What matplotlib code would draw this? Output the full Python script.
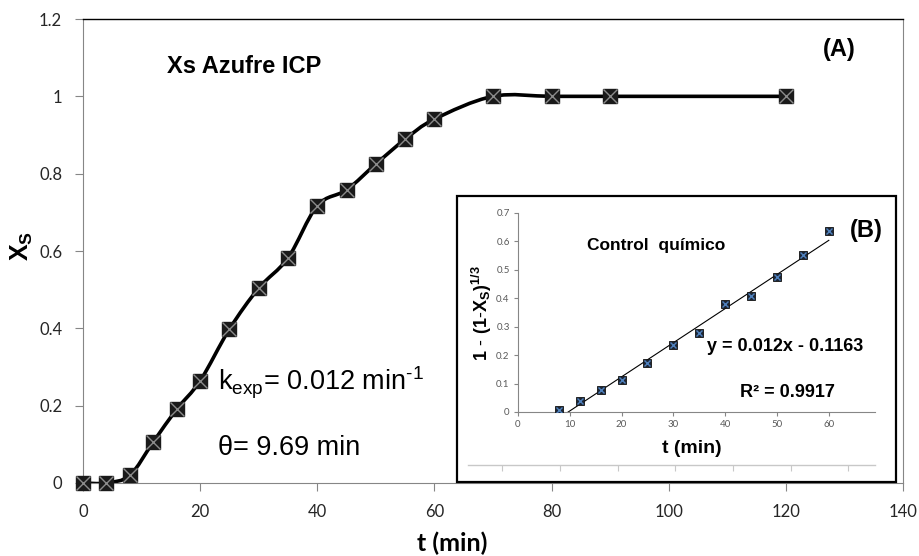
import numpy as np
import matplotlib
matplotlib.use("Agg")
import matplotlib.pyplot as plt
from matplotlib.path import Path
from matplotlib.patches import PathPatch, Rectangle
from matplotlib.ticker import MultipleLocator

plt.rcParams["mathtext.fontset"] = "custom"
plt.rcParams["mathtext.rm"] = "Liberation Sans"
plt.rcParams["mathtext.bf"] = "Liberation Sans:bold"

# conversion of sulfur vs time
t_min = [0, 4, 8, 12, 16, 20, 25, 30, 35, 40, 45, 50, 55, 60, 70, 80, 90, 120]
xs = [0.0, 0.0, 0.02, 0.106, 0.191, 0.264, 0.398, 0.504, 0.582, 0.717,
      0.758, 0.825, 0.889, 0.941, 1.0, 1.0, 1.0, 1.0]

# chemical control model: 1 - (1 - Xs)^(1/3)
t_fit = [8, 12, 16, 20, 25, 30, 35, 40, 45, 50, 55, 60]
g_xs = [0.008, 0.04, 0.079, 0.111, 0.174, 0.234, 0.279, 0.379, 0.409,
        0.474, 0.552, 0.638]
slope, intercept, r2 = 0.012, -0.1163, 0.9917

GRAY = "#868686"
TXT = "#262626"


def smooth_path(x, y):
    # Catmull-Rom style cubic segments through every point
    p = np.column_stack([x, y]).astype(float)
    p_ext = np.vstack([p[0], p, p[-1]])
    verts = [p[0]]
    codes = [Path.MOVETO]
    for i in range(len(p) - 1):
        p0, p1, p2, p3 = p_ext[i], p_ext[i + 1], p_ext[i + 2], p_ext[i + 3]
        verts += [p1 + (p2 - p0) / 6, p2 - (p3 - p1) / 6, p2]
        codes += [Path.CURVE4] * 3
    return Path(verts, codes)


fig = plt.figure(figsize=(9.2, 5.56), dpi=100)
ax = fig.add_axes([0.0902, 0.1313, 0.8913, 0.8345])

ax.add_patch(PathPatch(smooth_path(t_min, xs), fill=False, lw=2.6,
                       ec="black", capstyle="round", zorder=2))
ax.plot(t_min, xs, ls="none", marker="s", ms=10.5, mfc="#1a1a1a",
        mec="#1a1a1a", zorder=3, clip_on=False)
ax.plot(t_min, xs, ls="none", marker="x", ms=10, mec="#8a8a8a", mew=1.0,
        zorder=4, clip_on=False)

ax.set_xlim(0, 140)
ax.set_ylim(0, 1.2)
ax.xaxis.set_major_locator(MultipleLocator(20))
ax.set_yticks([0, 0.2, 0.4, 0.6, 0.8, 1.0, 1.2])
ax.set_yticklabels(["0", "0.2", "0.4", "0.6", "0.8", "1", "1.2"])
ax.tick_params(direction="out", length=6, color=GRAY, labelsize=12,
               labelcolor=TXT)
ax.tick_params(axis="y", pad=9)
ax.tick_params(axis="x", pad=9)
for lab in ax.get_xticklabels() + ax.get_yticklabels():
    lab.set_family("Lato")
for side in ["left", "bottom", "right"]:
    ax.spines[side].set_color(GRAY)
ax.spines["top"].set_color("black")
ax.spines["top"].set_linewidth(1.0)

ax.set_xlabel("t (min)", fontfamily="Lato", fontweight="bold", fontsize=18,
              color="black", va="center")
ax.xaxis.set_label_coords(0.45, -0.129)
ax.set_ylabel(r"$\mathbf{X_S}$", fontsize=18, color="black", va="center")
ax.yaxis.set_label_coords(-0.074, 0.51)

ax.text(14.3, 1.06, "Xs Azufre ICP", fontfamily="Liberation Sans",
        fontweight="bold", fontsize=17, va="baseline")
ax.text(126.3, 1.105, "(A)", fontfamily="Liberation Sans",
        fontweight="bold", fontsize=17, va="baseline")
ax.text(23.0, 0.24, r"k$_{\mathrm{exp}}$= 0.012 min$^{\text{-}1}$",
        fontfamily="Liberation Sans", fontsize=19.5, va="baseline")
ax.text(23.0, 0.072, "θ= 9.69 min", fontfamily="Liberation Sans",
        fontsize=19.5, va="baseline")

# inset frame
fig.add_artist(Rectangle((0.4967, 0.1331), 0.4772, 0.5144,
                         transform=fig.transFigure, fc="white",
                         ec="black", lw=1.6, zorder=1))

# leftover category axis inside the frame
ax_rest = fig.add_axes([0.5087, 0.1637, 0.4424, 0.001], zorder=2)
ax_rest.set_xlim(-0.59, 6.46)
ax_rest.xaxis.set_major_locator(MultipleLocator(1))
ax_rest.set_yticks([])
ax_rest.tick_params(axis="x", direction="out", length=4, color="#c8c8c8",
                    labelbottom=False)
for side in ["left", "right", "top"]:
    ax_rest.spines[side].set_visible(False)
ax_rest.spines["bottom"].set_color("#c8c8c8")
ax_rest.spines["bottom"].set_linewidth(1.0)
ax_rest.patch.set_alpha(0)

ins = fig.add_axes([0.563, 0.259, 0.388, 0.358], zorder=3)
ins.patch.set_alpha(0)
fit_x = np.array([t_fit[0], t_fit[-1]], dtype=float)
ins.plot(fit_x, slope * fit_x + intercept, color="black", lw=0.8, zorder=2)
ins.plot(t_fit, g_xs, ls="none", marker="s", ms=6, mfc="#1c2636",
         mec="#111111", mew=0.6, zorder=3)
ins.plot(t_fit, g_xs, ls="none", marker="x", ms=5, mec="#4f81bd", mew=1.0,
         zorder=4)
ins.set_xlim(0, 68.9)
ins.set_ylim(0, 0.7)
ins.set_xticks(range(0, 61, 10))
ins.set_yticks([0, 0.1, 0.2, 0.3, 0.4, 0.5, 0.6, 0.7])
ins.set_yticklabels(["0", "0.1", "0.2", "0.3", "0.4", "0.5", "0.6", "0.7"])
ins.tick_params(direction="out", length=3, color=GRAY, labelsize=7,
                labelcolor="#595959", pad=3)
for lab in ins.get_xticklabels() + ins.get_yticklabels():
    lab.set_family("Lato")
for side in ["top", "right"]:
    ins.spines[side].set_visible(False)
for side in ["left", "bottom"]:
    ins.spines[side].set_color(GRAY)

ins.set_xlabel("t (min)", fontfamily="Liberation Sans", fontweight="bold",
               fontsize=14, va="center")
ins.xaxis.set_label_coords(0.487, -0.181)
ins.set_ylabel(r"$\mathbf{1\ \text{-}\ (1\text{-}X_S)^{1/3}}$", fontsize=13,
               va="center")
ins.yaxis.set_label_coords(-0.1, 0.5)

ins.text(13.3, 0.587, "Control  químico", fontfamily="Liberation Sans",
         fontweight="bold", fontsize=12.5, va="center")
ins.text(36.5, 0.229, f"y = {slope}x - {abs(intercept)}",
         fontfamily="Liberation Sans", fontweight="bold", fontsize=13,
         va="center")
ins.text(42.9, 0.067, f"R² = {r2}", fontfamily="Liberation Sans",
         fontweight="bold", fontsize=13, va="center")
ins.text(64.1, 0.64, "(B)", fontfamily="Liberation Sans", fontweight="bold",
         fontsize=17, va="center")

fig.savefig("out.png", dpi=100)
